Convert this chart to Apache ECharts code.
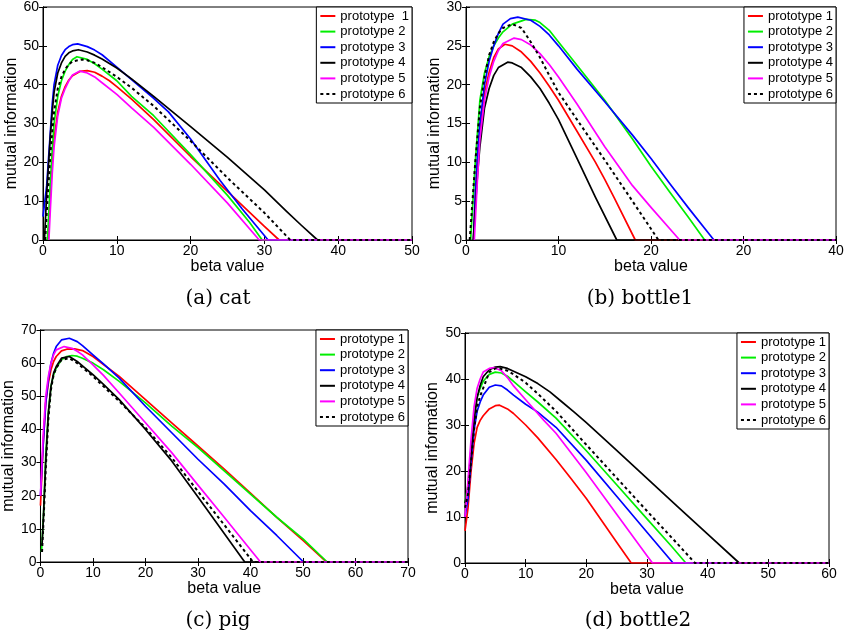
<!DOCTYPE html>
<html>
<head>
<meta charset="utf-8">
<script src="https://cdn.jsdelivr.net/npm/echarts@6/dist/echarts.min.js"></script>
<style>html,body{margin:0;padding:0;background:#fff}#c{width:847px;height:633px}</style>
</head>
<body>
<div id="c"></div>
<script>
// ---------- DATA ----------
const names = ['prototype 1', 'prototype 2', 'prototype 3', 'prototype 4', 'prototype 5', 'prototype 6'];
const namesCat = ['prototype  1', 'prototype 2', 'prototype 3', 'prototype 4', 'prototype 5', 'prototype 6'];
const captions = ['(a) cat', '(b) bottle1', '(c) pig', '(d) bottle2'];
const xTicksBottle1 = ['0', '10', '20', '20', '40'];

// (a) cat
const catP1 = [[0.7,0],[1,12],[1.25,20],[1.5,26],[2,33],[2.5,37],[3,39.5],[3.5,41.2],[4,42.3],[5,43.4],[6,43.6],[7,43.2],[8,42.2],[9,41],[10,39.5],[12,36.3],[15,31],[20,21.5],[25,12.5],[30,3.5],[32,0],[50,0]];
const catP2 = [[0.6,0],[1,15],[1.25,23],[1.5,30],[2,37],[2.5,41],[3,43.5],[3.5,45.2],[4,46.5],[4.6,47.2],[6,46.5],[7,45.4],[8,44],[10,41],[12,37],[15,32],[20,22],[25,11.5],[28,4.5],[29.7,0],[50,0]];
const catP3 = [[0,6],[0.5,14],[1,28],[1.25,35],[1.5,40],[2,45],[2.5,47.5],[3,49],[3.5,49.8],[4,50.3],[4.7,50.5],[6,49.8],[7,48.9],[8,47.7],[10,44.5],[12,41.3],[15,36.5],[17,33],[20,26],[24,15.3],[27,8],[30.5,0],[50,0]];
const catP4 = [[0.2,0],[0.5,12],[1,27],[1.25,33],[1.5,38],[2,43],[2.5,45.6],[3,47.3],[3.5,48.2],[4,48.7],[4.8,49],[6,48.4],[7,47.6],[8,46.6],[10,44.3],[12,41.5],[15,37],[20,29.2],[25,21.3],[30,12.9],[33,7.4],[35,3.8],[37.2,0],[50,0]];
const catP5 = [[0.8,0],[1,8],[1.25,17],[1.5,24],[2,32],[2.5,36.5],[3,39],[3.5,41],[4,42.5],[5,43.5],[6,43],[7,42],[8,40.5],[10,37.5],[12,34],[15,29],[20,19.5],[25,9.5],[29.3,0],[50,0]];
const catP6 = [[0.3,0],[0.6,10],[1,22],[1.25,28],[1.5,33],[2,39],[2.5,42],[3,44],[3.5,45.2],[4,46],[5.3,46.5],[6,46.3],[7,45.6],[8,44.5],[10,42],[12,39.2],[15,34.5],[20,25.5],[25,16],[30,7],[33.5,0],[50,0]];

// (b) bottle1
const b1P1 = [[0.8,0],[1,5],[1.25,10],[1.5,14],[2,19],[2.5,21.6],[3,23.5],[3.5,24.6],[4.2,25.2],[5,25],[6,24.2],[7,23],[8,21.5],[9,19.8],[10,18],[12,14],[14,10],[15,7.8],[16,5.5],[18.3,0],[40,0]];
const b1P2 = [[0.5,0],[0.75,5],[1,10],[1.5,18],[2,21.5],[2.5,23.6],[3,25],[3.5,26],[4,26.8],[5,27.8],[6.5,28.4],[7.5,28.3],[8,28],[9,27],[10,25.5],[12,22.5],[15,18],[18,13],[20,9.5],[22,6.2],[24,3],[25.8,0],[40,0]];
const b1P3 = [[0.8,0],[1,6],[1.25,11],[1.5,15],[2,20],[2.5,23],[3,25],[3.5,26.6],[4,27.8],[4.8,28.5],[5.6,28.7],[7,28.3],[8,27.5],[9,26.4],[10,25],[12,22],[15,17.8],[18,13.5],[20,10.5],[22,7.3],[24,4.2],[26.8,0],[40,0]];
const b1P4 = [[0.8,0],[1,4],[1.25,8.5],[1.5,12],[2,17],[2.5,19.5],[3,21.2],[3.5,22.2],[4.5,22.9],[5,22.8],[6,22.2],[7,21],[8,19.5],[9,17.6],[10,15.5],[12,10.5],[14,5.5],[16.3,0],[40,0]];
const b1P5 = [[0.9,0],[1.2,7],[1.5,13],[2,18],[2.5,21],[3,23],[3.5,24.4],[4,25.3],[5.2,26],[6,25.8],[7,25.1],[8,24],[9,22.6],[10,21],[12,17.5],[15,12],[18,7],[20,4.2],[23.1,0],[40,0]];
const b1P6 = [[0.4,0],[0.7,5],[1,10],[1.5,17],[2,21],[2.5,23.8],[3,25.5],[3.5,26.6],[4,27.3],[5,27.8],[6,27.3],[7,25.5],[8,23.5],[9,21.2],[10,19],[12,15.5],[15,10.3],[18,5],[20.8,0],[40,0]];

// (c) pig
const pigP1 = [[0,17],[0.5,35],[1,48],[1.5,54],[2,58],[2.5,60.5],[3,62],[4,63.7],[5,64.2],[6.5,64.3],[8,63.8],[10,62],[12,59.6],[15,56],[20,49],[25,42],[30,35],[35,28],[40,20.8],[45,13.5],[50,6.5],[54.5,0],[70,0]];
const pigP2 = [[0.2,3],[0.6,15],[1,32],[1.5,45],[2,53],[2.5,56.5],[3,58.5],[4,61],[5,62],[6,62.3],[7,62.1],[8,61.5],[10,60],[12,58],[15,54.5],[20,48],[25,41],[30,34.5],[35,27.5],[40,20.5],[45,13.5],[50,7],[54.6,0],[70,0]];
const pigP3 = [[0,20],[0.5,35],[1,48],[1.5,55],[2,60],[2.5,63],[3,65],[4,67],[5.5,67.5],[7,66.5],[8,65.3],[10,62.5],[12,59.8],[15,55.5],[20,47],[25,39],[30,31],[35,23.5],[40,15.5],[45,8],[50.1,0],[70,0]];
const pigP4 = [[0.3,5],[0.6,15],[1,30],[1.5,45],[2,53],[2.5,57],[3,59],[4,61.5],[5.5,62],[7,60.5],[8,59.2],[10,56.5],[12,53.6],[15,49],[20,40],[25,30.5],[30,19.6],[35,8.6],[38.9,0],[70,0]];
const pigP5 = [[0,20],[0.5,38],[1,50],[1.5,56],[2,60],[2.5,62.5],[3,64],[4.5,65],[6,64.5],[7,63.6],[8,62.5],[10,59.5],[12,56.3],[15,51],[20,42],[25,33],[30,23.2],[35,13.5],[40,3.7],[41.9,0],[70,0]];
const pigP6 = [[0.3,3],[0.6,13],[1,28],[1.5,43],[2,52],[2.5,56.5],[3,58.5],[4,61],[5.5,61.5],[7,60],[8,58.7],[10,56],[12,53],[15,48.5],[20,40.5],[25,31.5],[30,21.3],[35,11.2],[40.5,0],[70,0]];

// (d) bottle2
const b2P1 = [[0,7],[0.5,12],[1,20],[1.5,26],[2,29.5],[2.5,31],[3,32],[4,33.5],[5,34.2],[5.7,34.3],[7,33.5],[8,32.5],[10,30],[12,27.2],[15,22.5],[17.5,18.3],[20,14],[25,4.5],[27.4,0],[60,0]];
const b2P2 = [[0,13],[0.5,17],[1,25],[1.5,32],[2,36],[2.5,38],[3,39.5],[4,41],[5,41.5],[6,41.3],[7,40.6],[8,39.5],[10,37.2],[12,35],[15,31.5],[20,24.4],[25,17],[30,9.6],[34,3.7],[36.4,0],[60,0]];
const b2P3 = [[0,10],[0.5,14],[1,22],[1.5,29],[2,33],[2.5,35],[3,36.5],[4,38.2],[5,38.7],[6,38.5],[7,37.6],[8,36.5],[10,34.5],[12,32.8],[15,29.5],[20,22.3],[25,14.5],[30,6.7],[34.3,0],[60,0]];
const b2P4 = [[0,13],[0.5,16],[1,24],[1.5,31],[2,36],[2.5,38.6],[3,40.5],[4,42],[5,42.6],[5.8,42.7],[7,42.3],[8,41.7],[10,40.5],[12,39],[14,37.2],[16,35],[18,32.8],[20,30.5],[25,24.5],[30,18.4],[35,12.3],[40,6.3],[45.2,0],[60,0]];
const b2P5 = [[0,10],[0.5,18],[1,27],[1.5,34],[2,38],[2.5,40],[3,41.5],[4,42.3],[4.8,42.5],[6,41.8],[7,40.3],[8,38.5],[10,35.5],[13,31],[15,28.2],[20,19.6],[25,10.6],[30,1.6],[30.9,0],[60,0]];
const b2P6 = [[0,12],[0.5,15],[1,22],[1.5,29],[2,34],[2.5,36.3],[3,38],[4,41.5],[5,42.3],[5.5,42.4],[7,41.8],[8,41],[10,39.2],[12,36.8],[15,33],[20,25.7],[25,18.5],[30,11.3],[35,4.2],[37.9,0],[60,0]];

const panels = [
  { names: namesCat, data: [catP1, catP2, catP3, catP4, catP5, catP6], xMax: 50, yMax: 60, yInt: 10,
    grid: { left: 43, top: 7, width: 369, height: 233 }, yGap: 22 },
  { names: names, data: [b1P1, b1P2, b1P3, b1P4, b1P5, b1P6], xMax: 40, yMax: 30, yInt: 5,
    grid: { left: 466, top: 7, width: 370, height: 233 }, yGap: 22, xTicks: xTicksBottle1 },
  { names: names, data: [pigP1, pigP2, pigP3, pigP4, pigP5, pigP6], xMax: 70, yMax: 70, yInt: 10,
    grid: { left: 37, top: 330, width: 371, height: 232 }, yGap: 20 },
  { names: names, data: [b2P1, b2P2, b2P3, b2P4, b2P5, b2P6], xMax: 60, yMax: 50, yInt: 10,
    grid: { left: 465, top: 333, width: 364, height: 230 }, yGap: 24 }
];
const captionPos = [[213, 284], [635, 284], [213, 606], [633, 606]];

// ---------- STYLE ----------
const colors = ['#ff0000', '#00ee00', '#0000ff', '#000000', '#ff00ff', '#000000'];
const SANS = 'Liberation Sans, Arial, sans-serif';

const grids = [], xAxes = [], yAxes = [], series = [], legends = [], titles = [];
panels.forEach((p, i) => {
  grids.push(Object.assign({ show: true, borderColor: '#000', borderWidth: 1, backgroundColor: '#fff' }, p.grid));
  const tick = { show: true, inside: true, length: 4, lineStyle: { color: '#000', width: 1 } };
  xAxes.push({
    type: 'value', gridIndex: i, min: 0, max: p.xMax, interval: 10, position: 'bottom',
    axisLine: { show: true, lineStyle: { color: '#000', width: 1 } }, axisTick: tick, splitLine: { show: false },
    axisLabel: { color: '#000', fontSize: 14, fontFamily: SANS, margin: 4,
      formatter: p.xTicks ? ((v, idx) => p.xTicks[Math.round(v / 10)]) : null },
    name: 'beta value', nameLocation: 'middle', nameGap: 18,
    nameTextStyle: { color: '#000', fontSize: 16, fontFamily: SANS }
  });
  xAxes.push({
    type: 'value', gridIndex: i, min: 0, max: p.xMax, interval: 10, position: 'top',
    axisLine: { show: true, lineStyle: { color: '#000', width: 1 } }, axisTick: tick,
    axisLabel: { show: false }, splitLine: { show: false }
  });
  yAxes.push({
    type: 'value', gridIndex: i, min: 0, max: p.yMax, interval: p.yInt, position: 'left',
    axisLine: { show: true, lineStyle: { color: '#000', width: 1 } }, axisTick: tick, splitLine: { show: false },
    axisLabel: { color: '#000', fontSize: 14, fontFamily: SANS, margin: 4 },
    name: 'mutual information', nameLocation: 'middle', nameGap: p.yGap,
    nameTextStyle: { color: '#000', fontSize: 16, fontFamily: SANS }
  });
  yAxes.push({
    type: 'value', gridIndex: i, min: 0, max: p.yMax, interval: p.yInt, position: 'right',
    axisLine: { show: true, lineStyle: { color: '#000', width: 1 } }, axisTick: tick,
    axisLabel: { show: false }, splitLine: { show: false }
  });
  p.data.forEach((d, k) => {
    series.push({
      type: 'line', name: p.names[k], data: d, xAxisIndex: 2 * i, yAxisIndex: 2 * i,
      showSymbol: false, symbol: 'none', smooth: false, animation: false,
      color: colors[k],
      lineStyle: { color: colors[k], width: k === 5 ? 2 : 1.7, type: k === 5 ? [3, 3] : 'solid', join: 'round' },
      z: 2 + k
    });
  });
  legends.push({
    data: p.names, orient: 'vertical', right: 847 - (p.grid.left + p.grid.width), top: p.grid.top,
    backgroundColor: '#fff', borderColor: '#000', borderWidth: 1, borderRadius: 0,
    padding: [2, 3, 2, 3], itemWidth: 15, itemHeight: 14, itemGap: 1.6, selectedMode: false,
    itemStyle: { color: 'transparent', borderWidth: 0, opacity: 0 },
    textStyle: { color: '#000', fontSize: 13, fontFamily: SANS, lineHeight: 14 },
    z: 10
  });
  titles.push({
    text: captions[i], left: captionPos[i][0], top: captionPos[i][1], textAlign: 'center',
    textStyle: { color: '#000', fontSize: 20, fontWeight: 'normal', fontFamily: 'DejaVu Serif, serif' }
  });
});

const chart = echarts.init(document.getElementById('c'), null, { renderer: 'canvas' });
chart.setOption({
  animation: false, backgroundColor: '#fff',
  title: titles, grid: grids, xAxis: xAxes, yAxis: yAxes, legend: legends, series: series
});
</script>
</body>
</html>
